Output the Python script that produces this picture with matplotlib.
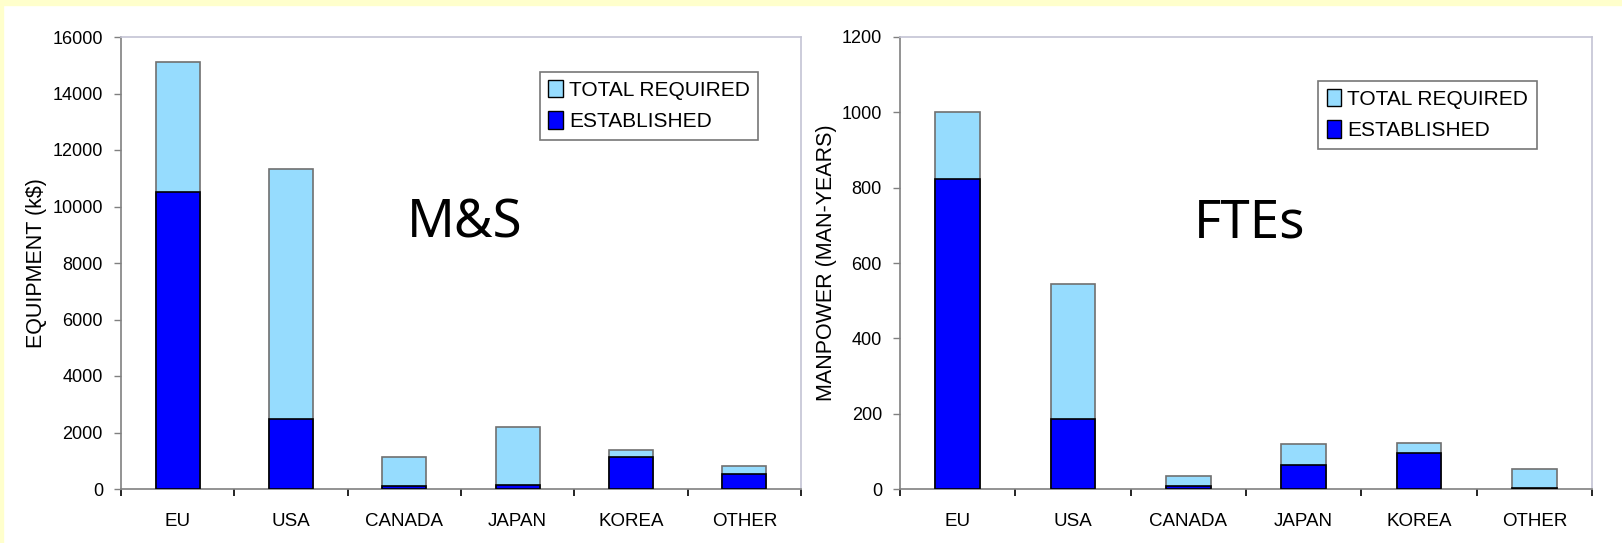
import matplotlib
matplotlib.use('Agg')
import matplotlib.pyplot as plt
from matplotlib.patches import Rectangle, Patch
import numpy as np

plt.rcParams['font.family'] = ['Liberation Sans', 'DejaVu Sans']

regions = ['EU', 'USA', 'CANADA', 'JAPAN', 'KOREA', 'OTHER']

# M&S, equipment in k$
ms_total = [15100, 11320, 1130, 2180, 1380, 820]
ms_established = [10530, 2490, 100, 130, 1120, 540]

# FTEs, manpower in man-years
fte_total = [1000, 543, 35, 120, 123, 53]
fte_established = [823, 185, 7, 65, 96, 2]

LIGHT = '#96dcfe'
DARK = '#0000ff'
FRAME = '#c4c4d4'
AXIS = '#808080'


def draw_panel(ax, total, established, ymax, ystep, ylabel, big_text, legend_anchor, labelpad):
    x = np.arange(len(regions))
    ax.bar(x, total, width=0.39, color=LIGHT, edgecolor='#707070', linewidth=1.2, zorder=2)
    ax.bar(x, established, width=0.39, color=DARK, edgecolor='black', linewidth=1.2, zorder=3)

    ax.set_xlim(-0.5, len(regions) - 0.5)
    ax.set_ylim(0, ymax)
    ax.set_yticks(np.arange(0, ymax + 1, ystep))
    ax.set_xticks(x)
    ax.set_xticklabels(regions, fontsize=13.5)
    ax.set_xticks(np.arange(-0.5, len(regions)), minor=True)
    ax.tick_params(axis='x', which='major', length=0, pad=17)
    ax.tick_params(axis='x', which='minor', length=5, width=1.2, color='black', direction='out')
    ax.tick_params(axis='y', length=5, width=1, color=AXIS, pad=8, labelsize=13)
    ax.set_ylabel(ylabel, fontsize=15.5, labelpad=labelpad)

    ax.spines['left'].set_color(AXIS)
    ax.spines['bottom'].set_color(AXIS)
    ax.spines['top'].set_color(FRAME)
    ax.spines['right'].set_color(FRAME)
    for s in ax.spines.values():
        s.set_linewidth(1.2)

    ax.text(0.505, 0.557, big_text, transform=ax.transAxes, fontsize=38,
            family=['Noto Sans', 'DejaVu Sans'], ha='center', va='baseline')

    handles = [Patch(facecolor=LIGHT, edgecolor='black', linewidth=1, label='TOTAL REQUIRED'),
               Patch(facecolor=DARK, edgecolor='black', linewidth=1, label='ESTABLISHED')]
    leg = ax.legend(handles=handles, loc='upper right', bbox_to_anchor=legend_anchor,
                    fontsize=15, frameon=True, fancybox=False, shadow=False,
                    handlelength=0.7, handleheight=0.9, handletextpad=0.3,
                    borderpad=0.4, labelspacing=0.55, borderaxespad=0)
    leg.get_frame().set_edgecolor('#555555')
    leg.get_frame().set_linewidth(1.2)


fig = plt.figure(figsize=(16.22, 5.43), dpi=100)
fig.patch.set_facecolor('white')
fig.patches.append(Rectangle((0, 1 - 5 / 543), 1, 5 / 543, transform=fig.transFigure,
                             color='#ffffcc', zorder=0))
fig.patches.append(Rectangle((0, 0), 3 / 1622, 1, transform=fig.transFigure,
                             color='#ffffcc', zorder=0))

ax1 = fig.add_axes([121 / 1622, 54 / 543, 680 / 1622, 452 / 543])
ax2 = fig.add_axes([900 / 1622, 54 / 543, 692 / 1622, 452 / 543])

draw_panel(ax1, ms_total, ms_established, 16000, 2000, 'EQUIPMENT (k$)', 'M&S', (0.937, 0.923), 4)
draw_panel(ax2, fte_total, fte_established, 1200, 200, 'MANPOWER (MAN-YEARS)', 'FTEs', (0.92, 0.903), 3)

fig.savefig('out.png', dpi=100)
